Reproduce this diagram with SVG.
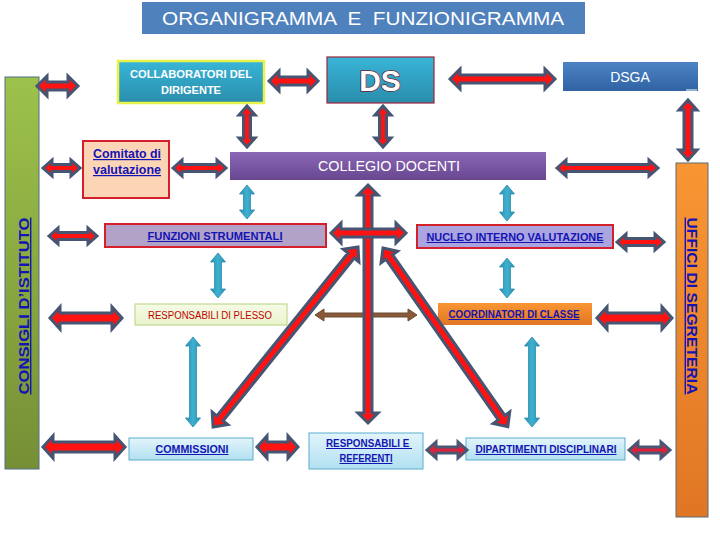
<svg xmlns="http://www.w3.org/2000/svg" width="720" height="540" viewBox="0 0 720 540">
<defs>
<linearGradient id="gTeal" x1="0" y1="0" x2="0" y2="1"><stop offset="0" stop-color="#38b5d8"/><stop offset="1" stop-color="#2a8dab"/></linearGradient>
<linearGradient id="gBlue" x1="0" y1="0" x2="0" y2="1"><stop offset="0" stop-color="#4d82c4"/><stop offset="1" stop-color="#2f63a3"/></linearGradient>
<linearGradient id="gPurple" x1="0" y1="0" x2="0" y2="1"><stop offset="0" stop-color="#8b68b6"/><stop offset="1" stop-color="#684690"/></linearGradient>
<linearGradient id="gLight" x1="0" y1="0" x2="0" y2="1"><stop offset="0" stop-color="#e2f4fb"/><stop offset="1" stop-color="#b2e0f1"/></linearGradient>
<linearGradient id="gPlesso" x1="0" y1="0" x2="0" y2="1"><stop offset="0" stop-color="#f6fbe6"/><stop offset="1" stop-color="#eaf4cc"/></linearGradient>
<linearGradient id="gOrange" x1="0" y1="0" x2="0" y2="1"><stop offset="0" stop-color="#f99633"/><stop offset="1" stop-color="#e07624"/></linearGradient>
<linearGradient id="gGreen" x1="0" y1="0" x2="0" y2="1"><stop offset="0" stop-color="#9dc24b"/><stop offset="1" stop-color="#768f36"/></linearGradient>
<linearGradient id="gTealArrow" x1="0" y1="0" x2="1" y2="0"><stop offset="0" stop-color="#2a92b4"/><stop offset="0.5" stop-color="#3fb0cf"/><stop offset="1" stop-color="#2a92b4"/></linearGradient>
</defs>
<style>
.t{font-family:"Liberation Sans",Arial,sans-serif}
.w{fill:#ffffff}
.lnk{fill:#1414b4;font-weight:bold;text-decoration:underline}
.red{fill:#ff1212;stroke:#465572;stroke-width:3;stroke-linejoin:miter}
.redt{fill:#e0203a;stroke:#4a5672;stroke-width:3}
.teal{fill:url(#gTealArrow);stroke:#2a8cad;stroke-width:0.8}
.brown{fill:#8a5a38;stroke:#6b4a30;stroke-width:1}
</style>
<rect width="720" height="540" fill="#ffffff"/>

<g id="title">
<rect x="142" y="2" width="443" height="32" fill="#4f81bd"/>
<text class="t w" x="363" y="25" font-size="19" text-anchor="middle" textLength="402" lengthAdjust="spacingAndGlyphs" xml:space="preserve">ORGANIGRAMMA  E  FUNZIONIGRAMMA</text>
</g>

<g id="consigli">
<rect x="5" y="77" width="34" height="392" fill="url(#gGreen)" stroke="#4f6f8a" stroke-width="1"/>
<text class="t lnk" transform="translate(24,306) rotate(-90)" x="0" y="5" font-size="14" text-anchor="middle" textLength="177" lengthAdjust="spacingAndGlyphs">CONSIGLI D’ISTITUTO</text>
</g>

<g id="uffici">
<rect x="676" y="163" width="32" height="354" fill="url(#gOrange)" stroke="#5a6a7a" stroke-width="1"/>
<text class="t lnk" transform="translate(692,306) rotate(90)" x="0" y="5" font-size="14" text-anchor="middle" textLength="177" lengthAdjust="spacingAndGlyphs">UFFICI DI SEGRETERIA</text>
</g>

<g id="collaboratori">
<rect x="118" y="61" width="146" height="42" fill="url(#gTeal)" stroke="#e8f24a" stroke-width="2.5"/>
<text class="t w" x="191" y="78" font-size="11" font-weight="bold" text-anchor="middle" textLength="122" lengthAdjust="spacingAndGlyphs">COLLABORATORI DEL</text>
<text class="t w" x="191" y="94" font-size="11" font-weight="bold" text-anchor="middle">DIRIGENTE</text>
</g>

<g id="ds">
<rect x="327" y="57" width="107" height="46" fill="url(#gTeal)" stroke="#a0243a" stroke-width="1.2"/>
<text class="t" x="380" y="91" font-size="30" font-weight="bold" text-anchor="middle" fill="#ffffff" stroke="#6a2034" stroke-width="1.5" paint-order="stroke">DS</text>
</g>

<g id="dsga">
<rect x="563" y="62" width="135" height="29" fill="url(#gBlue)"/>
<line x1="686" y1="90" x2="697" y2="90" stroke="#ffffff" stroke-width="1"/>
<text class="t w" x="630" y="82" font-size="14" text-anchor="middle">DSGA</text>
</g>

<g id="comitato">
<rect x="83" y="141" width="86" height="57" fill="#fcd5b6" stroke="#d4202a" stroke-width="2"/>
<text class="t lnk" x="127" y="158" font-size="12" text-anchor="middle" textLength="68" lengthAdjust="spacingAndGlyphs">Comitato di</text>
<text class="t lnk" x="127" y="174" font-size="12" text-anchor="middle" textLength="68" lengthAdjust="spacingAndGlyphs">valutazione</text>
</g>

<g id="collegio">
<rect x="230" y="152" width="316" height="28" fill="url(#gPurple)"/>
<text class="t w" x="389" y="171" font-size="15" text-anchor="middle" textLength="142" lengthAdjust="spacingAndGlyphs">COLLEGIO DOCENTI</text>
</g>

<g id="funzioni">
<rect x="105" y="224" width="221" height="23" fill="#b2a2c8" stroke="#d4202a" stroke-width="2"/>
<text class="t lnk" x="215" y="240" font-size="10" text-anchor="middle" textLength="135" lengthAdjust="spacingAndGlyphs">FUNZIONI STRUMENTALI</text>
</g>

<g id="nucleo">
<rect x="417" y="225" width="196" height="23" fill="#aaa4e0" stroke="#d4202a" stroke-width="2"/>
<text class="t lnk" x="515" y="241" font-size="10" text-anchor="middle" textLength="177" lengthAdjust="spacingAndGlyphs">NUCLEO INTERNO VALUTAZIONE</text>
</g>

<g id="plesso">
<rect x="135" y="304" width="152" height="21" fill="url(#gPlesso)" stroke="#b4d47c" stroke-width="1"/>
<text class="t" x="210" y="319" font-size="10" text-anchor="middle" fill="#c00000" textLength="124" lengthAdjust="spacingAndGlyphs">RESPONSABILI DI PLESSO</text>
</g>

<g id="coordinatori">
<rect x="438" y="303" width="154" height="22" fill="url(#gOrange)"/>
<text class="t lnk" x="514" y="318" font-size="10" text-anchor="middle" textLength="131" lengthAdjust="spacingAndGlyphs">COORDINATORI DI CLASSE</text>
</g>

<g id="commissioni">
<rect x="129" y="438" width="124" height="22" fill="url(#gLight)" stroke="#5aaecb" stroke-width="1"/>
<text class="t lnk" x="192" y="453" font-size="10" font-weight="normal" text-anchor="middle" textLength="73" lengthAdjust="spacingAndGlyphs">COMMISSIONI</text>
</g>

<g id="responsabili">
<rect x="309" y="433" width="114" height="36" fill="url(#gLight)" stroke="#5aaecb" stroke-width="1"/>
<text class="t lnk" x="369" y="447" font-size="10" text-anchor="middle" textLength="86" lengthAdjust="spacingAndGlyphs" xml:space="preserve">RESPONSABILI E </text>
<text class="t lnk" x="366" y="462" font-size="10" text-anchor="middle" textLength="53" lengthAdjust="spacingAndGlyphs">REFERENTI</text>
</g>

<g id="dipartimenti">
<rect x="466" y="438" width="159" height="22" fill="url(#gLight)" stroke="#5aaecb" stroke-width="1"/>
<text class="t lnk" x="546" y="453" font-size="10" text-anchor="middle" textLength="141" lengthAdjust="spacingAndGlyphs">DIPARTIMENTI DISCIPLINARI</text>
</g>

<g id="connectors">
<path class="brown" d="M315 315 L324 309 L324 313 L408 313 L408 309 L417 315 L408 321 L408 317 L324 317 L324 321 Z"/>
<path class="red" transform="translate(358,247) rotate(128.85)" d="M0 0 L11 -10 L11 -4 L220 -4 L220 -10 L231 0 L220 10 L220 4 L11 4 L11 10 Z"/>
<path class="red" transform="translate(383,248) rotate(55.07)" d="M0 0 L11 -10 L11 -4 L207 -4 L207 -10 L218 0 L207 10 L207 4 L11 4 L11 10 Z"/>
<path class="red" d="M368 185 L378 195 L372 195 L372 413 L378 413 L368 423 L358 413 L364 413 L364 195 L358 195 Z"/>
<path class="red" d="M331 233 L341 223 L341 229 L396 229 L396 223 L406 233 L396 243 L396 237 L341 237 L341 243 Z"/>

<path class="red" d="M37 86 L47 76 L47 82 L68 82 L68 76 L78 86 L68 96 L68 90 L47 90 L47 96 Z"/>
<path class="red" d="M269 81 L279 71 L279 77 L308 77 L308 71 L318 81 L308 91 L308 85 L279 85 L279 91 Z"/>
<path class="red" d="M450 79 L460 69 L460 75 L545 75 L545 69 L555 79 L545 89 L545 83 L460 83 L460 89 Z"/>
<path class="red" d="M43 168 L52 160 L52 164.5 L71 164.5 L71 160 L80 168 L71 176 L71 171.5 L52 171.5 L52 176 Z"/>
<path class="red" d="M173 168 L182 160 L182 164.5 L217 164.5 L217 160 L226 168 L217 176 L217 171.5 L182 171.5 L182 176 Z"/>
<path class="red" d="M557 168 L566 160 L566 164.5 L649 164.5 L649 160 L658 168 L649 176 L649 171.5 L566 171.5 L566 176 Z"/>
<path class="red" d="M49 236 L58 228 L58 232.5 L88 232.5 L88 228 L97 236 L88 244 L88 239.5 L58 239.5 L58 244 Z"/>
<path class="red" d="M617 242 L626 234 L626 238.5 L655 238.5 L655 234 L664 242 L655 250 L655 245.5 L626 245.5 L626 250 Z"/>
<path class="red" d="M50 318 L60 307 L60 313 L112 313 L112 307 L122 318 L112 329 L112 323 L60 323 L60 329 Z"/>
<path class="red" d="M597 318 L607 307 L607 313 L662 313 L662 307 L672 318 L662 329 L662 323 L607 323 L607 329 Z"/>
<path class="red" d="M43 447 L53 436 L53 442 L115 442 L115 436 L125 447 L115 458 L115 452 L53 452 L53 458 Z"/>
<path class="red" d="M257 447 L267 436 L267 442 L288 442 L288 436 L298 447 L288 458 L288 452 L267 452 L267 458 Z"/>
<path class="redt" d="M427 450 L436 442 L436 447 L458 447 L458 442 L467 450 L458 458 L458 453 L436 453 L436 458 Z"/>
<path class="redt" d="M629 450 L638 442 L638 447 L661 447 L661 442 L670 450 L661 458 L661 453 L638 453 L638 458 Z"/>

<path class="red" d="M247 106 L255 115 L250.5 115 L250.5 138 L255 138 L247 147 L239 138 L243.5 138 L243.5 115 L239 115 Z"/>
<path class="red" d="M383 106 L391 115 L386.5 115 L386.5 138 L391 138 L383 147 L375 138 L379.5 138 L379.5 115 L375 115 Z"/>
<path class="red" d="M688 100 L697 110 L692 110 L692 150 L697 150 L688 160 L679 150 L684 150 L684 110 L679 110 Z"/>

<path class="teal" d="M247 185 L254.5 194 L250.5 194 L250.5 210 L254.5 210 L247 219 L239.5 210 L243.5 210 L243.5 194 L239.5 194 Z"/>
<path class="teal" d="M218 253 L225.5 262 L221.5 262 L221.5 289 L225.5 289 L218 298 L210.5 289 L214.5 289 L214.5 262 L210.5 262 Z"/>
<path class="teal" d="M193 337 L200.5 346 L196.5 346 L196.5 418 L200.5 418 L193 427 L185.5 418 L189.5 418 L189.5 346 L185.5 346 Z"/>
<path class="teal" d="M507 185 L514.5 194 L510.5 194 L510.5 212 L514.5 212 L507 221 L499.5 212 L503.5 212 L503.5 194 L499.5 194 Z"/>
<path class="teal" d="M507 258 L514.5 267 L510.5 267 L510.5 289 L514.5 289 L507 298 L499.5 289 L503.5 289 L503.5 267 L499.5 267 Z"/>
<path class="teal" d="M532 337 L539.5 346 L535.5 346 L535.5 418 L539.5 418 L532 427 L524.5 418 L528.5 418 L528.5 346 L524.5 346 Z"/>
</g>
</svg>
